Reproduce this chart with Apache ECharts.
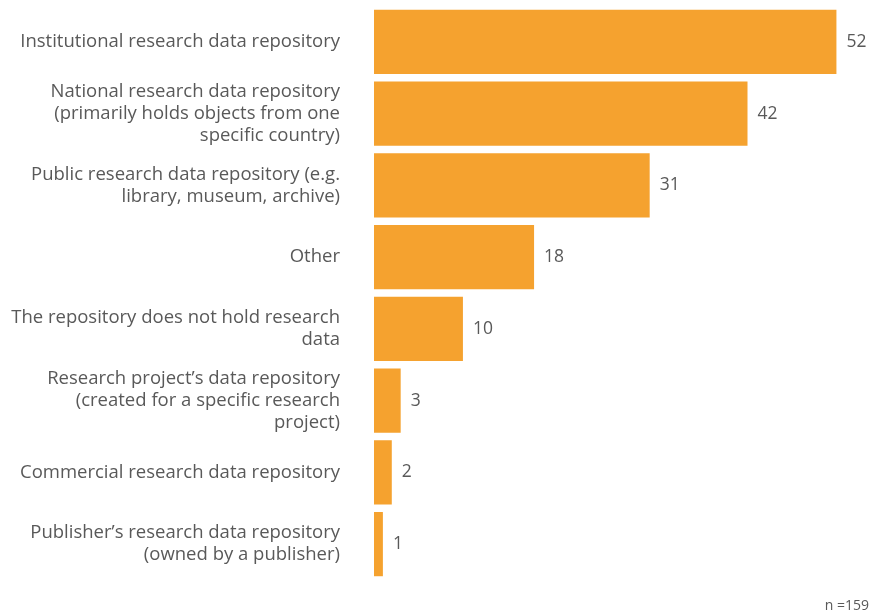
<html>
<head>
  <meta charset='utf-8' />
  <script src="https://cdn.jsdelivr.net/npm/echarts@6/dist/echarts.min.js"></script>
</head>
<body style="margin: 0; background: #ffffff">
  <div id="main" style="width: 891px; height: 614px"></div>
  <script type="text/javascript">
    var categories = [
        'Institutional research data repository',
        'National research data repository\n(primarily holds objects from one\nspecific country)',
        'Public research data repository (e.g.\nlibrary, museum, archive)',
        'Other',
        'The repository does not hold research\ndata',
        'Research project\u2019s data repository\n(created for a specific research\nproject)',
        'Commercial research data repository',
        'Publisher\u2019s research data repository\n(owned by a publisher)'
    ];
    var counts = [52, 42, 31, 18, 10, 3, 2, 1];
    var note = 'n =159';

    var textColor = '#595959';
    var fontName = 'Open Sans';

    var myChart = echarts.init(document.getElementById('main'));
    myChart.setOption({
        animation: false,
        grid: {left: 374, top: 6, width: 498, height: 574, containLabel: false},
        xAxis: {type: 'value', min: 0, max: 56, show: false},
        yAxis: {
            type: 'category', inverse: true, data: categories,
            axisLine: {show: false}, axisTick: {show: false},
            axisLabel: {color: textColor, fontFamily: fontName, fontSize: 18.5, lineHeight: 22, margin: 34, align: 'right'}
        },
        graphic: [{
            type: 'text', right: 22, bottom: 1,
            style: {text: note, fill: textColor, font: '14px "Open Sans"'}
        }],
        series: [{
            type: 'bar', data: counts, barCategoryGap: '10.5%',
            itemStyle: {color: '#F5A22F'},
            label: {show: true, position: 'right', distance: 10, color: textColor, fontFamily: fontName, fontSize: 17.5}
        }]
    });
  </script>
</body>
</html>
